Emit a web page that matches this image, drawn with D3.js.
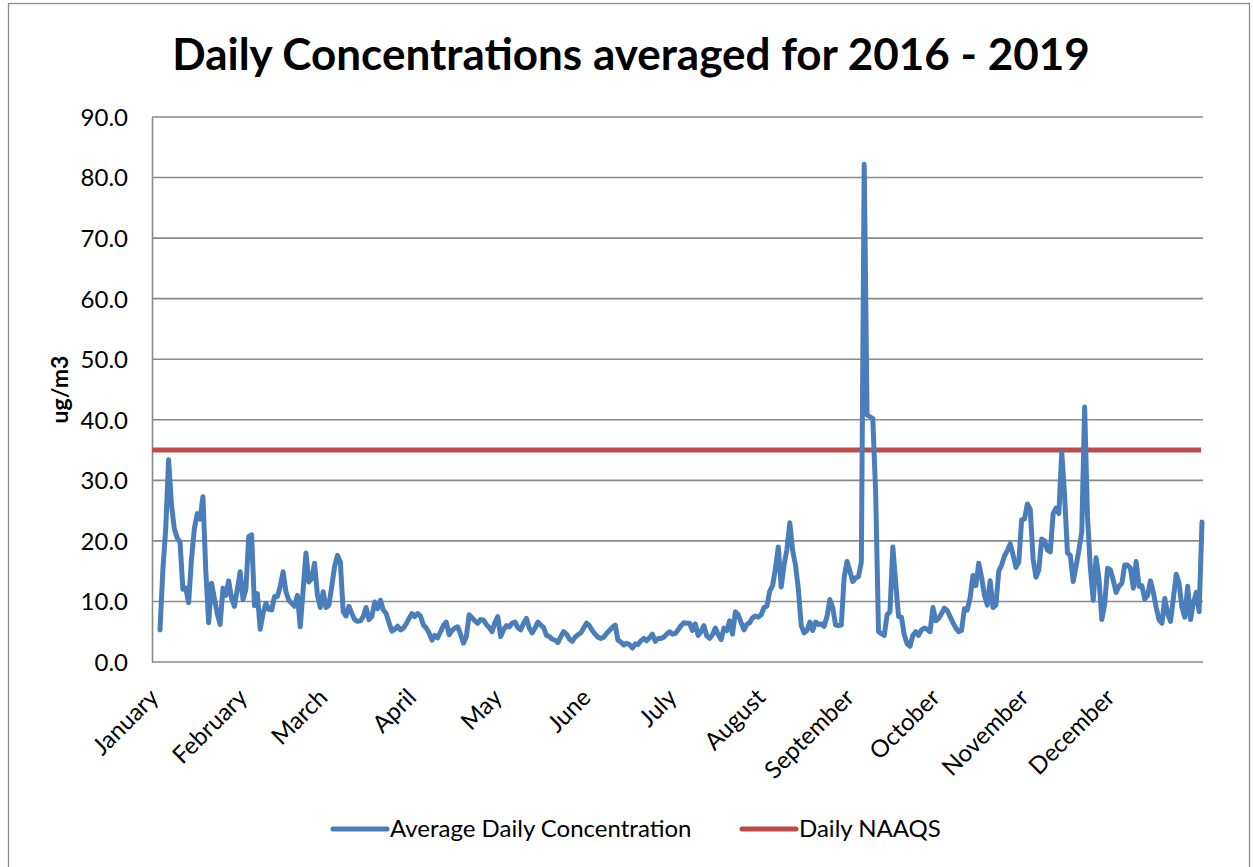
<!DOCTYPE html>
<html>
<head>
<meta charset="utf-8">
<script src="https://cdn.jsdelivr.net/npm/d3@7"></script>
<style>
  html, body { margin: 0; padding: 0; background: #ffffff; }
  svg { display: block; }
  text { font-family: Lato, "Open Sans", "Liberation Sans", sans-serif; fill: #000; }
</style>
</head>
<body>
<svg id="chart" width="1253" height="867"></svg>
<script>
// Average daily concentration (ug/m3), day-of-year 0..364, averaged over 2016-2019
const avgDaily = [
  5.3, 15.2, 22, 33.4, 26, 22, 20.5, 19.8, 12, 12.2,
  9.8, 17, 22, 24.5, 23.6, 27.3, 15, 6.5, 13, 10.5,
  8, 6.2, 12.2, 11, 13.4, 10.5, 9.2, 12, 14.9, 10.3,
  12, 20.7, 21, 9.3, 11.3, 5.4, 8, 9.7, 8.7, 8.6,
  10.8, 10.8, 12.5, 14.9, 11.6, 10.2, 9.7, 9.2, 11, 5.8,
  11.9, 18, 13.2, 13.8, 16.3, 11, 9, 11.6, 9, 9.4,
  12.5, 15.8, 17.6, 16.5, 8.3, 7.6, 9.2, 8, 7, 6.7,
  6.8, 7.5, 9, 7, 7.5, 9.9, 8.8, 10.2, 8.6, 8,
  6.5, 5.1, 5.4, 5.9, 5.3, 5.6, 6.3, 7.2, 8, 7.5,
  8, 7.6, 6.1, 5.6, 4.8, 3.6, 4.4, 4, 5, 6,
  6.6, 4.5, 5.2, 5.6, 5.8, 4.6, 3.1, 4.2, 7.8, 7.3,
  6.8, 6.4, 7, 6.9, 6.2, 5.7, 5, 6.5, 7.5, 4.2,
  5.3, 6, 5.8, 6.4, 6.6, 5.7, 5.3, 6.4, 7.2, 5.6,
  4.8, 5.6, 6.6, 6.1, 5.7, 4.4, 4.2, 3.8, 3.6, 3.2,
  4.2, 5, 4.6, 3.8, 3.4, 4.1, 4.5, 4.8, 5.6, 6.4,
  6, 5.2, 4.6, 4.1, 3.9, 4.1, 4.7, 5.2, 5.7, 6.1,
  3.6, 3.3, 2.8, 3.1, 2.9, 2.3, 3, 2.9, 3.5, 3.9,
  3.5, 4, 4.6, 3.4, 3.9, 3.9, 4.1, 4.6, 5, 4.6,
  4.7, 5.3, 6, 6.5, 6.4, 6.4, 5.2, 6.3, 4.4, 5,
  6, 4.3, 3.9, 4.5, 5.6, 4.5, 3.7, 5.6, 5.2, 6.8,
  4.6, 8.3, 7.8, 6.5, 5.3, 6.2, 6.5, 7.3, 7.6, 7.4,
  7.8, 9, 9.2, 11.7, 12.6, 15.5, 19, 12.4, 16, 18.6,
  23, 18.4, 16, 12, 6, 4.8, 5.2, 6.6, 5.2, 6.6,
  6.2, 6.3, 5.9, 7.5, 10.3, 9, 6.1, 6, 6.1, 14,
  16.6, 15, 13.3, 13.9, 14.1, 16.5, 82.2, 40.8, 40.5, 40.2,
  28, 5, 4.7, 4.4, 7.8, 8.3, 19, 13, 7.5, 7.4,
  4.5, 3, 2.6, 4.4, 5, 4.4, 5.3, 5.6, 5.4, 5,
  9, 6.8, 7.2, 8, 8.9, 8.5, 7.5, 6.5, 5.6, 5,
  5.2, 8.8, 8.6, 10.6, 14.3, 12.6, 16.3, 14, 11, 9.4,
  13.4, 9, 9.4, 15, 16, 17.5, 18.4, 19.5, 17.7, 15.6,
  16.5, 23.5, 23.6, 26.1, 25.2, 17, 14, 15.2, 20.3, 20,
  18.5, 18.2, 24.5, 25.4, 24.5, 34.7, 27.5, 18, 17.6, 13.3,
  15.8, 18.5, 21.5, 42.1, 24, 15.5, 10.2, 17.2, 13.8, 7,
  9.5, 15.5, 15.2, 13.5, 11.5, 12.5, 13, 16, 16, 15.5,
  12.2, 16.6, 12.5, 12.6, 10.4, 11, 13.4, 11.5, 9, 7,
  6.4, 10.5, 8, 6.7, 10.5, 14.5, 13, 9, 7.4, 12.5,
  7, 9.8, 11.5, 8.3, 23.1
];

// Daily PM2.5 NAAQS
const naaqs = 35;

// Month labels and the day-of-year each month starts on
const monthNames = ["January", "February", "March", "April", "May", "June",
  "July", "August", "September", "October", "November", "December"];
const monthStartDay = [0, 31, 59, 90, 120, 151, 181, 212, 243, 273, 304, 334];

// Value axis ticks
const yTicks = d3.range(0, 91, 10);

const seriesNames = ["Average Daily Concentration", "Daily NAAQS"];
const seriesColors = ["#4a7ebb", "#be4b48"];

// ---- layout ----
const W = 1253, H = 867;
const plot = { left: 152, right: 1203, top: 117, bottom: 662 };
const labelSize = 24;

const svg = d3.select("#chart");

// chart-area frame
svg.append("rect")
  .attr("x", 8.5).attr("y", 3.5)
  .attr("width", 1241).attr("height", 900)
  .attr("fill", "#fff")
  .attr("stroke", "#8c8c8c")
  .attr("stroke-width", 1.3);

const x = d3.scaleLinear()
  .domain([0, avgDaily.length - 1])
  .range([plot.left + 8, plot.right - 1]);

const y = d3.scaleLinear()
  .domain([0, 90])
  .range([plot.bottom, plot.top]);

// title
svg.append("text")
  .attr("x", 631)
  .attr("y", 70)
  .attr("text-anchor", "middle")
  .attr("font-size", 44)
  .attr("font-weight", 700)
  .text("Daily Concentrations averaged for 2016 - 2019");

// horizontal gridlines
svg.append("g")
  .selectAll("line")
  .data(yTicks.filter(d => d > 0))
  .join("line")
  .attr("x1", plot.left).attr("x2", plot.right)
  .attr("y1", d => y(d)).attr("y2", d => y(d))
  .attr("stroke", "#898989")
  .attr("stroke-width", 1.6);

// value axis (left)
const yAxis = svg.append("g")
  .attr("transform", `translate(${plot.left},0)`)
  .call(d3.axisLeft(y).tickValues(yTicks).tickFormat(d3.format(".1f")).tickSize(0).tickPadding(24));
yAxis.select(".domain").attr("stroke", "#898989").attr("stroke-width", 1.6);
yAxis.selectAll("text")
  .attr("font-size", labelSize)
  .attr("font-family", "Lato, 'Open Sans', sans-serif")
  .attr("fill", "#000")
  .attr("dy", "0.35em");

// category axis (bottom)
svg.append("line")
  .attr("x1", plot.left).attr("x2", plot.right)
  .attr("y1", plot.bottom).attr("y2", plot.bottom)
  .attr("stroke", "#898989")
  .attr("stroke-width", 1.6);

svg.append("g")
  .selectAll("text")
  .data(monthNames)
  .join("text")
  .attr("transform", (d, i) => `translate(${x(monthStartDay[i])},${plot.bottom + 37}) rotate(-45)`)
  .attr("text-anchor", "end")
  .attr("font-size", labelSize)
  .text(d => d);

// axis title
svg.append("text")
  .attr("transform", `translate(68,${(plot.top + plot.bottom) / 2}) rotate(-90)`)
  .attr("text-anchor", "middle")
  .attr("font-size", 23)
  .attr("font-weight", 700)
  .text("ug/m3");

// NAAQS reference series
svg.append("line")
  .attr("x1", plot.left).attr("x2", plot.right - 2)
  .attr("y1", y(naaqs)).attr("y2", y(naaqs))
  .attr("stroke", seriesColors[1])
  .attr("stroke-width", 5);

// daily concentration series
const line = d3.line()
  .x((d, i) => x(i))
  .y(d => y(d));

svg.append("path")
  .datum(avgDaily)
  .attr("d", line)
  .attr("fill", "none")
  .attr("stroke", seriesColors[0])
  .attr("stroke-width", 5)
  .attr("stroke-linejoin", "round")
  .attr("stroke-linecap", "round");

// legend
const legendItems = [
  { name: seriesNames[0], color: seriesColors[0], x: 333 },
  { name: seriesNames[1], color: seriesColors[1], x: 742 }
];
const lg = svg.append("g").selectAll("g")
  .data(legendItems)
  .join("g")
  .attr("transform", d => `translate(${d.x},829)`);
lg.append("line")
  .attr("x1", 0).attr("x2", 54)
  .attr("stroke", d => d.color)
  .attr("stroke-width", 5)
  .attr("stroke-linecap", "round");
lg.append("text")
  .attr("x", 57)
  .attr("dy", "0.35em")
  .attr("font-size", labelSize)
  .text(d => d.name);
</script>
</body>
</html>
